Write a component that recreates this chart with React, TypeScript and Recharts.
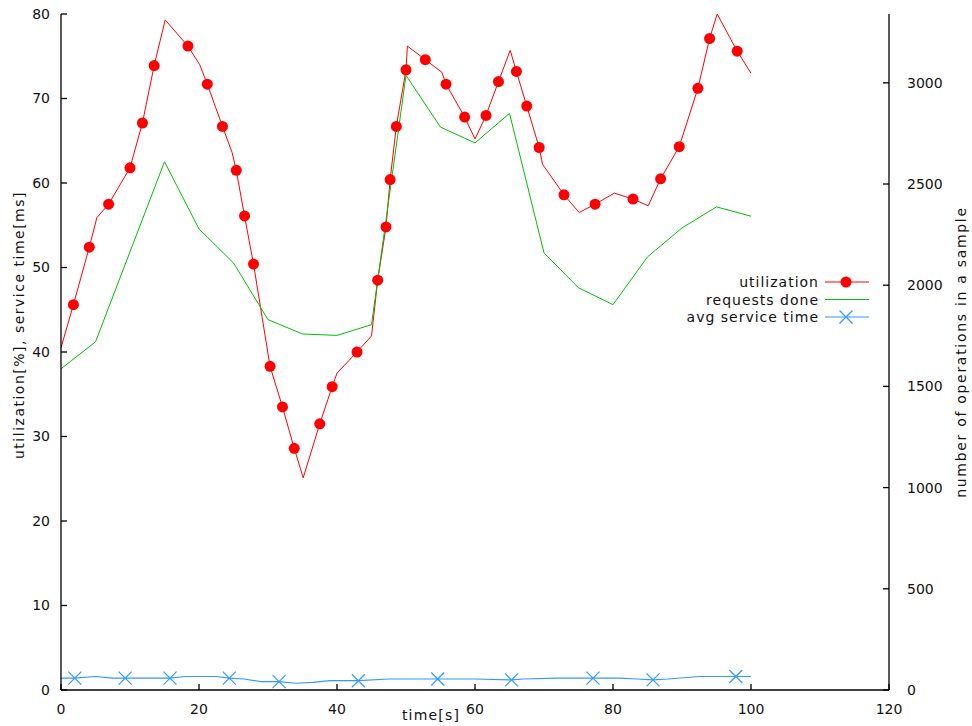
import { ComposedChart, Line, XAxis, YAxis } from "recharts";

const FONT = '"DejaVu Sans", Verdana, sans-serif';

// === utilization [%] : plain polyline vertices ===
const utilVertexTime = [0, 5.2, 15.1, 20.1, 24.8, 35.1, 40, 45, 50.2, 55.2, 60, 65.1, 69.8, 75.1, 80.2, 85.1, 95.1, 100];
const utilVertexPct = [40.5, 55.9, 79.3, 74, 63.6, 25.1, 37.5, 41.9, 76.2, 73.1, 65.2, 75.7, 62.2, 56.5, 58.8, 57.3, 80, 73];

// === utilization [%] : samples drawn with a marker ===
const utilMarkTime = [
  1.8, 4.1, 6.9, 10, 11.8, 13.5, 18.4, 21.2, 23.4, 25.4, 26.6, 27.9, 30.3, 32.1, 33.8, 37.5, 39.3, 42.9, 45.9, 47.1,
  47.7, 48.6, 50, 52.8, 55.8, 58.5, 61.6, 63.4, 66, 67.5, 69.3, 72.9, 77.4, 82.9, 86.9, 89.6, 92.3, 94, 98,
];
const utilMarkPct = [
  45.6, 52.4, 57.5, 61.8, 67.1, 73.9, 76.2, 71.7, 66.7, 61.5, 56.1, 50.4, 38.3, 33.5, 28.6, 31.5, 35.9, 40, 48.5, 54.8,
  60.4, 66.7, 73.4, 74.6, 71.7, 67.8, 68, 72, 73.2, 69.1, 64.2, 58.6, 57.5, 58.1, 60.5, 64.3, 71.2, 77.1, 75.6,
];

// === requests done (right axis) ===
const reqTime = [0, 5, 15, 20, 25, 30, 35, 40, 45, 50, 55, 60, 65, 70, 75, 80, 85, 90, 95, 100];
const reqCount = [1587, 1720, 2610, 2278, 2110, 1830, 1759, 1752, 1805, 3037, 2781, 2703, 2849, 2160, 1987, 1904, 2140, 2283, 2387, 2341];

// === avg service time [ms] ===
const svcVertexTime = [0, 5, 7.5, 12, 18, 22.5, 26.5, 29, 34, 36.5, 39, 47.5, 60, 67, 72, 81, 83.5, 88, 92.5, 100];
const svcVertexMs = [1.4, 1.6, 1.4, 1.4, 1.6, 1.6, 1.3, 1.0, 0.8, 0.9, 1.1, 1.3, 1.3, 1.3, 1.4, 1.4, 1.3, 1.3, 1.6, 1.6];
const svcMarkTime = [2, 9.3, 15.8, 24.4, 31.6, 43.1, 54.6, 65.3, 77.1, 85.8, 97.8];
const svcMarkMs = [1.4, 1.4, 1.4, 1.4, 1.0, 1.1, 1.3, 1.2, 1.4, 1.2, 1.6];

const xTicks = [0, 20, 40, 60, 80, 100, 120];
const leftTicks = [0, 10, 20, 30, 40, 50, 60, 70, 80];
const rightTicks = [0, 500, 1000, 1500, 2000, 2500, 3000];

const RED = "#ff0000";
const GREEN = "#00c000";
const BLUE = "#3399ff";

const zip = (t: number[], v: number[]) => t.map((x, i) => ({ t: x, v: v[i] }));
const merge = (a: { t: number; v: number }[], b: { t: number; v: number }[]) =>
  [...a, ...b].sort((p, q) => p.t - q.t);

const utilMarks = zip(utilMarkTime, utilMarkPct);
const utilLine = merge(zip(utilVertexTime, utilVertexPct), utilMarks);
const reqLine = zip(reqTime, reqCount);
const svcMarks = zip(svcMarkTime, svcMarkMs);
const svcLine = merge(zip(svcVertexTime, svcVertexMs), svcMarks);

const RedDot = (p: any) => (
  <circle key={`u${p.index}`} cx={p.cx} cy={p.cy} r={5.5} fill={RED} stroke="none" />
);

const BlueCross = (p: any) => {
  const s = 6.5;
  return (
    <g key={`s${p.index}`} stroke={BLUE} strokeWidth={1.2}>
      <line x1={p.cx - s} y1={p.cy - s} x2={p.cx + s} y2={p.cy + s} />
      <line x1={p.cx - s} y1={p.cy + s} x2={p.cx + s} y2={p.cy - s} />
    </g>
  );
};

const tickStyle = { fontFamily: FONT, fontSize: 14, fill: "#111" };
const frame = { stroke: "#000", strokeWidth: 1.3 };

export default function App() {
  return (
    <div style={{ position: "absolute", left: 0, top: 0, width: 972, height: 726, background: "#fff" }}>
      <ComposedChart width={972} height={726} margin={{ top: 14, right: 23, bottom: 11, left: 11 }}>
        <XAxis
          xAxisId="top"
          orientation="top"
          type="number"
          dataKey="t"
          domain={[0, 120]}
          ticks={xTicks}
          height={0}
          tick={false}
          tickSize={-6}
          axisLine={frame}
          tickLine={frame}
        />
        <XAxis
          type="number"
          dataKey="t"
          domain={[0, 120]}
          ticks={xTicks}
          height={25}
          tickSize={-6}
          tickMargin={20}
          tick={tickStyle}
          axisLine={frame}
          tickLine={frame}
        />
        <YAxis
          yAxisId="left"
          domain={[0, 80]}
          ticks={leftTicks}
          width={50}
          tickSize={-6}
          tickMargin={17}
          tick={tickStyle}
          axisLine={frame}
          tickLine={frame}
        />
        <YAxis
          yAxisId="leftMirror"
          orientation="right"
          domain={[0, 80]}
          ticks={leftTicks}
          width={0}
          tick={false}
          axisLine={false}
          tickSize={-6}
          tickLine={frame}
        />
        <YAxis
          yAxisId="right"
          orientation="right"
          domain={[0, 3340]}
          ticks={rightTicks}
          width={60}
          tickSize={-6}
          tickMargin={24}
          tick={tickStyle}
          axisLine={frame}
          tickLine={frame}
        />

        <Line
          yAxisId="left"
          data={utilLine}
          dataKey="v"
          stroke={RED}
          strokeWidth={1}
          dot={false}
          activeDot={false}
          isAnimationActive={false}
        />
        <Line
          yAxisId="left"
          data={utilMarks}
          dataKey="v"
          stroke="none"
          dot={RedDot}
          activeDot={false}
          isAnimationActive={false}
        />
        <Line
          yAxisId="right"
          data={reqLine}
          dataKey="v"
          stroke={GREEN}
          strokeWidth={1}
          dot={false}
          activeDot={false}
          isAnimationActive={false}
        />
        <Line
          yAxisId="left"
          data={svcLine}
          dataKey="v"
          stroke={BLUE}
          strokeWidth={1.2}
          dot={false}
          activeDot={false}
          isAnimationActive={false}
        />
        <Line
          yAxisId="left"
          data={svcMarks}
          dataKey="v"
          stroke="none"
          dot={BlueCross}
          activeDot={false}
          isAnimationActive={false}
        />
      </ComposedChart>

      {/* axis titles + key, gnuplot style */}
      <svg
        width={972}
        height={726}
        style={{ position: "absolute", left: 0, top: 0, pointerEvents: "none" }}
        fontFamily={FONT}
        fontSize={14}
        fill="#111"
        letterSpacing={1}
      >
        <text
          x={19}
          y={325}
          textAnchor="middle"
          dominantBaseline="central"
          letterSpacing={1.5}
          transform="rotate(-90 19 325)"
        >
          utilization[%], service time[ms]
        </text>
        <text
          x={961}
          y={352}
          textAnchor="middle"
          dominantBaseline="central"
          letterSpacing={1.7}
          transform="rotate(-90 961 352)"
        >
          number of operations in a sample
        </text>
        <text x={431} y={715} textAnchor="middle" dominantBaseline="central" letterSpacing={1.2}>
          time[s]
        </text>

        <text x={819} y={282} textAnchor="end" dominantBaseline="central">utilization</text>
        <line x1={825} y1={282} x2={869} y2={282} stroke={RED} />
        <circle cx={846} cy={282} r={5.5} fill={RED} />

        <text x={819} y={299.5} textAnchor="end" dominantBaseline="central">requests done</text>
        <line x1={825} y1={299.5} x2={869} y2={299.5} stroke={GREEN} />

        <text x={819} y={317} textAnchor="end" dominantBaseline="central">avg service time</text>
        <line x1={825} y1={317} x2={869} y2={317} stroke={BLUE} strokeWidth={1.2} />
        <line x1={839.5} y1={310.5} x2={852.5} y2={323.5} stroke={BLUE} strokeWidth={1.2} />
        <line x1={839.5} y1={323.5} x2={852.5} y2={310.5} stroke={BLUE} strokeWidth={1.2} />
      </svg>
    </div>
  );
}
